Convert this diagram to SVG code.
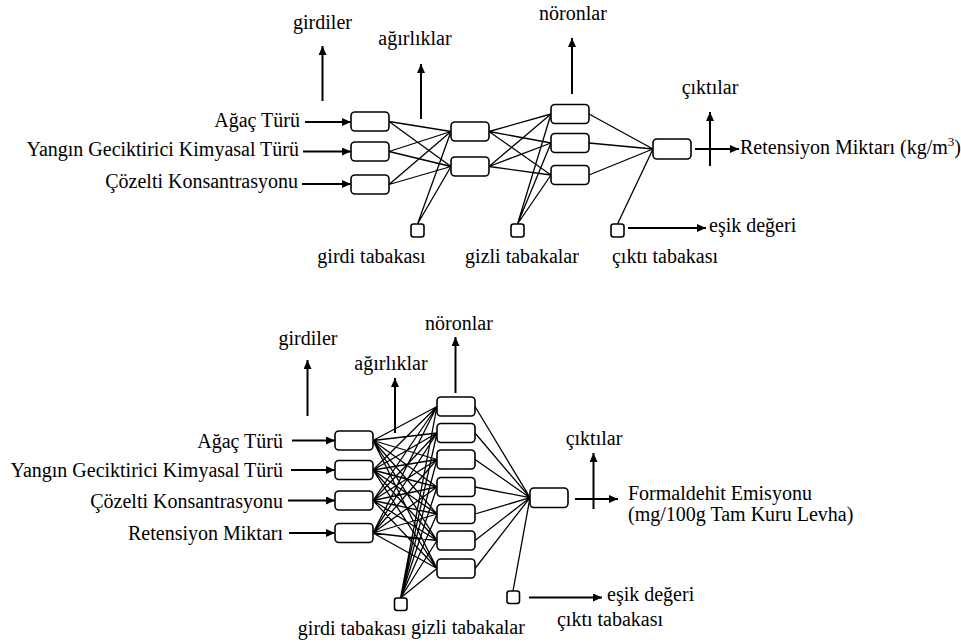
<svg xmlns="http://www.w3.org/2000/svg" width="961" height="643" viewBox="0 0 961 643">
<style>
.n{fill:#fff;stroke:#000;stroke-width:1.6}
.c{stroke:#000;stroke-width:1.3;fill:none}
.a{stroke:#000;stroke-width:2;fill:none;marker-end:url(#ah)}
.m{text-anchor:middle}
.e{text-anchor:end}
</style>
<defs>
<marker id="ah" markerUnits="userSpaceOnUse" markerWidth="10" markerHeight="8" refX="9" refY="4" orient="auto"><path d="M0,0 L9,4 L0,8 z" fill="#000"/></marker>
</defs>
<rect width="961" height="643" fill="#fff"/>

<g id="connectors">
<path class="c" d="M389,121.5L451,131.5M389,121.5L451,166.5M389,151.5L451,131.5M389,151.5L451,166.5M389,184.5L451,131.5M389,184.5L451,166.5"/>
<path class="c" d="M417.5,224L451,131.5M417.5,224L451,166.5"/>
<path class="c" d="M489,131.5L551,114M489,131.5L551,143M489,131.5L551,175M489,166.5L551,114M489,166.5L551,143M489,166.5L551,175"/>
<path class="c" d="M517.5,224L551,114M517.5,224L551,143M517.5,224L551,175"/>
<path class="c" d="M589,114L653,149M589,143L653,149M589,175L653,149M617.5,224L653,149"/>
<line class="a" x1="305" y1="122" x2="351" y2="122"/>
<line class="a" x1="303" y1="151.5" x2="351" y2="151.5"/>
<line class="a" x1="302" y1="184" x2="351" y2="184"/>
<line class="a" x1="322.5" y1="101" x2="322.5" y2="46"/>
<line class="a" x1="421" y1="119" x2="421" y2="64"/>
<line class="a" x1="572" y1="94" x2="572" y2="38"/>
<line class="a" x1="710" y1="166" x2="710" y2="112"/>
<line class="a" x1="695" y1="149" x2="739" y2="149"/>
<line class="a" x1="628" y1="228" x2="706" y2="228"/>

<path class="c" d="M373,440.5L437,406.5M373,440.5L437,433M373,440.5L437,459.5M373,440.5L437,487M373,440.5L437,514M373,440.5L437,540.5M373,440.5L437,568.5
M373,470L437,406.5M373,470L437,433M373,470L437,459.5M373,470L437,487M373,470L437,514M373,470L437,540.5M373,470L437,568.5
M373,500.5L437,406.5M373,500.5L437,433M373,500.5L437,459.5M373,500.5L437,487M373,500.5L437,514M373,500.5L437,540.5M373,500.5L437,568.5
M373,533L437,406.5M373,533L437,433M373,533L437,459.5M373,533L437,487M373,533L437,514M373,533L437,540.5M373,533L437,568.5"/>
<path class="c" d="M400.5,598L437,406.5M400.5,598L437,433M400.5,598L437,459.5M400.5,598L437,487M400.5,598L437,514M400.5,598L437,540.5M400.5,598L437,568.5"/>
<path class="c" d="M475,406.5L530,497.7M475,433L530,497.7M475,459.5L530,497.7M475,487L530,497.7M475,514L530,497.7M475,540.5L530,497.7M475,568.5L530,497.7M513,591L530,497.7"/>
<line class="a" x1="292" y1="440.5" x2="335" y2="440.5"/>
<line class="a" x1="291" y1="470" x2="335" y2="470"/>
<line class="a" x1="288" y1="500.5" x2="335" y2="500.5"/>
<line class="a" x1="289" y1="533" x2="335" y2="533"/>
<line class="a" x1="307.5" y1="416" x2="307.5" y2="360"/>
<line class="a" x1="395" y1="433" x2="395" y2="378"/>
<line class="a" x1="455.5" y1="393" x2="455.5" y2="337"/>
<line class="a" x1="593.5" y1="509" x2="593.5" y2="453"/>
<line class="a" x1="575" y1="499" x2="618" y2="499"/>
<line class="a" x1="529" y1="597.5" x2="602" y2="597.5"/>
</g>

<g id="top-inputs">
<rect id="t-in1" class="n" x="351" y="112" width="38" height="19" rx="4"/>
<rect id="t-in2" class="n" x="351" y="142" width="38" height="19" rx="4"/>
<rect id="t-in3" class="n" x="351" y="175" width="38" height="19" rx="4"/>
</g>
<g id="top-hidden1">
<rect id="t-h11" class="n" x="451" y="122" width="38" height="19" rx="4"/>
<rect id="t-h12" class="n" x="451" y="157" width="38" height="19" rx="4"/>
</g>
<g id="top-hidden2">
<rect id="t-h21" class="n" x="551" y="104.5" width="38" height="19" rx="4"/>
<rect id="t-h22" class="n" x="551" y="133.5" width="38" height="19" rx="4"/>
<rect id="t-h23" class="n" x="551" y="165.5" width="38" height="19" rx="4"/>
</g>
<g id="top-output"><rect class="n" x="653" y="139" width="38" height="20" rx="4"/></g>
<g id="top-bias">
<rect id="t-b1" class="n" x="411" y="224" width="13" height="13" rx="2.5"/>
<rect id="t-b2" class="n" x="511" y="224" width="13" height="13" rx="2.5"/>
<rect id="t-b3" class="n" x="611" y="224" width="13" height="13" rx="2.5"/>
</g>

<g id="bottom-inputs">
<rect id="b-in1" class="n" x="335" y="431" width="38" height="19" rx="4"/>
<rect id="b-in2" class="n" x="335" y="460.5" width="38" height="19" rx="4"/>
<rect id="b-in3" class="n" x="335" y="491" width="38" height="19" rx="4"/>
<rect id="b-in4" class="n" x="335" y="523.5" width="38" height="19" rx="4"/>
</g>
<g id="bottom-hidden">
<rect class="n" x="437" y="397" width="38" height="19" rx="4"/>
<rect class="n" x="437" y="423.5" width="38" height="19" rx="4"/>
<rect class="n" x="437" y="450" width="38" height="19" rx="4"/>
<rect class="n" x="437" y="477.5" width="38" height="19" rx="4"/>
<rect class="n" x="437" y="504.5" width="38" height="19" rx="4"/>
<rect class="n" x="437" y="531" width="38" height="19" rx="4"/>
<rect class="n" x="437" y="559" width="38" height="19" rx="4"/>
</g>
<g id="bottom-output"><rect class="n" x="530" y="488" width="38" height="19.5" rx="4"/></g>
<g id="bottom-bias">
<rect class="n" x="394.5" y="598" width="12.5" height="12.5" rx="2.5"/>
<rect class="n" x="507" y="591" width="12.5" height="12.5" rx="2.5"/>
</g>

<g id="top-labels" font-family="'Liberation Serif', 'Times New Roman', 'DejaVu Serif', serif" font-size="20" fill="#000">
<text class="m" x="322.5" y="29">girdiler</text>
<text class="m" x="415" y="45">ağırlıklar</text>
<text class="m" x="573" y="20">nöronlar</text>
<text class="m" x="710" y="94">çıktılar</text>
<text x="740" y="154">Retensiyon Miktarı (kg/m<tspan font-size="13" dy="-8">3</tspan><tspan dy="8">)</tspan></text>
<text x="709" y="232">eşik değeri</text>
<text class="e" x="300" y="127">Ağaç Türü</text>
<text class="e" x="299" y="156">Yangın Geciktirici Kimyasal Türü</text>
<text class="e" x="298" y="188">Çözelti Konsantrasyonu</text>
<text class="m" x="371.5" y="263">girdi tabakası</text>
<text class="m" x="522" y="263">gizli tabakalar</text>
<text class="m" x="665" y="263">çıktı tabakası</text>
</g>

<g id="bottom-labels" font-family="'Liberation Serif', 'Times New Roman', 'DejaVu Serif', serif" font-size="20" fill="#000">
<text class="m" x="308" y="345">girdiler</text>
<text class="m" x="391" y="370">ağırlıklar</text>
<text class="m" x="459" y="330">nöronlar</text>
<text class="m" x="594" y="445">çıktılar</text>
<text x="628" y="500">Formaldehit Emisyonu</text>
<text x="628" y="521">(mg/100g Tam Kuru Levha)</text>
<text x="607" y="601">eşik değeri</text>
<text class="e" x="283" y="447.5">Ağaç Türü</text>
<text class="e" x="283" y="477">Yangın Geciktirici Kimyasal Türü</text>
<text class="e" x="283" y="508">Çözelti Konsantrasyonu</text>
<text class="e" x="283" y="540">Retensiyon Miktarı</text>
<text class="m" x="352" y="635">girdi tabakası</text>
<text class="m" x="468" y="634">gizli tabakalar</text>
<text class="m" x="610" y="626">çıktı tabakası</text>
</g>
</svg>
